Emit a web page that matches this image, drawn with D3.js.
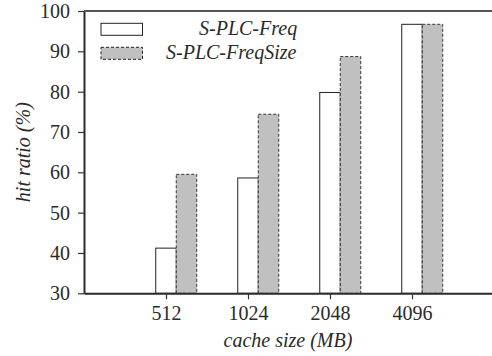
<!DOCTYPE html>
<html>
<head>
<meta charset="utf-8">
<script src="https://cdn.jsdelivr.net/npm/d3@7"></script>
<style>
	body { margin: 0; background: #fff; }
	svg { display: block; }
</style>
</head>
<body>
<script>
var categories = ['512', '1024', '2048', '4096'];
var freqValues = [41.2, 58.6, 79.8, 96.7];
var freqSizeValues = [59.5, 74.4, 88.7, 96.7];
var yTicks = [30, 40, 50, 60, 70, 80, 90, 100];
var seriesNames = ['S-PLC-Freq', 'S-PLC-FreqSize'];

var width = 492, height = 356;
var plotLeft = 84, plotTop = 11, plotBottom = 293.3, plotRight = 494;
var serif = '"Liberation Serif", "Times New Roman", serif';

var svg = d3.select('body')
	.append('svg')
	.attr('width', width)
	.attr('height', height);

var x = d3.scaleLinear().domain([0, 5]).range([plotLeft, plotRight]);
var y = d3.scaleLinear().domain([30, 100]).range([plotBottom, plotTop]);
var barW = x(0.25) - x(0);

// bars
svg.selectAll('rect.freq')
	.data(freqValues)
	.enter()
	.append('rect')
	.attr('class', 'freq')
	.attr('x', function(d, i) { return x(i + 1) - barW / 2; })
	.attr('y', function(d) { return y(d); })
	.attr('width', barW)
	.attr('height', function(d) { return plotBottom - y(d); })
	.attr('fill', '#fff')
	.attr('stroke', '#222')
	.attr('stroke-width', 1);

svg.selectAll('rect.freqsize')
	.data(freqSizeValues)
	.enter()
	.append('rect')
	.attr('class', 'freqsize')
	.attr('x', function(d, i) { return x(i + 1) + barW / 2; })
	.attr('y', function(d) { return y(d); })
	.attr('width', barW)
	.attr('height', function(d) { return plotBottom - y(d); })
	.attr('fill', '#c0c0c0')
	.attr('stroke', '#333')
	.attr('stroke-width', 1)
	.attr('stroke-dasharray', '3,2');

// axes
var yAxis = d3.axisLeft(y).tickValues(yTicks).tickSize(6).tickSizeOuter(0).tickPadding(8);
var xAxis = d3.axisBottom(x).tickValues([1, 2, 3, 4])
	.tickFormat(function(d) { return categories[d - 1]; })
	.tickSize(6).tickSizeOuter(0).tickPadding(7);

var gy = svg.append('g').attr('transform', 'translate(' + plotLeft + ',0)').call(yAxis);
var gx = svg.append('g').attr('transform', 'translate(0,' + plotBottom + ')').call(xAxis);
[gx, gy].forEach(function(g) {
	g.attr('font-family', serif).attr('font-size', 20);
	g.selectAll('text').attr('fill', '#2a2a2a');
	g.selectAll('path').attr('stroke', '#2a2a2a').attr('stroke-width', 2);
	g.selectAll('line').attr('stroke', '#333').attr('stroke-width', 1.2);
});

svg.append('line')
	.attr('x1', plotLeft).attr('x2', width)
	.attr('y1', y(100)).attr('y2', y(100))
	.attr('stroke', '#555').attr('stroke-width', 2);

// titles
function title(sel) {
	return sel.attr('font-family', serif)
		.attr('font-style', 'italic')
		.attr('font-size', 20)
		.attr('fill', '#2a2a2a');
}

svg.append('text')
	.call(title)
	.attr('x', 288)
	.attr('y', 347)
	.attr('text-anchor', 'middle')
	.text('cache size (MB)');

svg.append('text')
	.call(title)
	.attr('transform', 'translate(30,' + (plotTop + plotBottom) / 2 + ') rotate(-90)')
	.attr('text-anchor', 'middle')
	.text('hit ratio (%)');

// legend
var legend = [
	{ name: seriesNames[0], fill: '#fff', dash: null, ry: 23.3, tx: 199 },
	{ name: seriesNames[1], fill: '#c0c0c0', dash: '3,2', ry: 47.3, tx: 166 }
];
var lg = svg.selectAll('g.legend')
	.data(legend)
	.enter()
	.append('g')
	.attr('class', 'legend');
lg.append('rect')
	.attr('x', 101)
	.attr('y', function(d) { return d.ry; })
	.attr('width', 41.5)
	.attr('height', 12)
	.attr('fill', function(d) { return d.fill; })
	.attr('stroke', '#222')
	.attr('stroke-width', 1)
	.attr('stroke-dasharray', function(d) { return d.dash; });
lg.append('text')
	.call(title)
	.attr('x', function(d) { return d.tx; })
	.attr('y', function(d) { return d.ry + 12; })
	.text(function(d) { return d.name; });
</script>
</body>
</html>
